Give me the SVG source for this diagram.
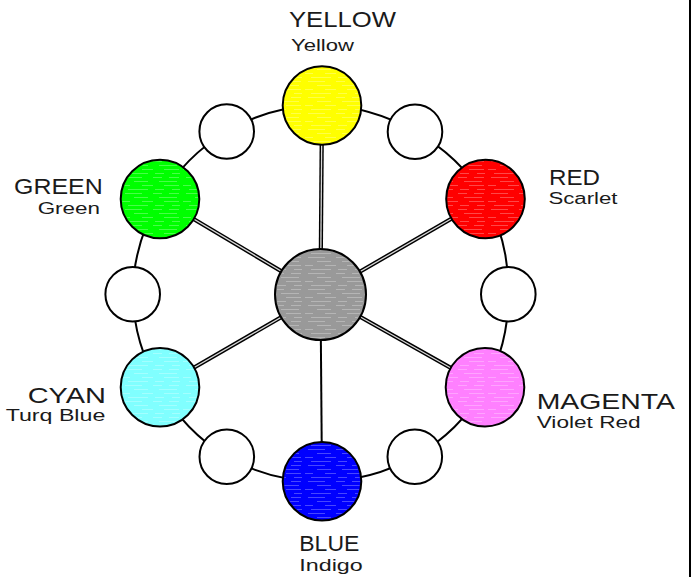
<svg xmlns="http://www.w3.org/2000/svg" width="694" height="577" viewBox="0 0 694 577">
<style>
.ring{fill:none;stroke:#000;stroke-width:2}
.sp{stroke:#000;stroke-width:4.2;stroke-linecap:butt}
.spi{stroke:#d8d8d8;stroke-width:1.3}
.sps{stroke:#000;stroke-width:2}
.nd{stroke:#000;stroke-width:2}
.tx{fill:url(#streaks);stroke:none}
.big{font-family:"Liberation Sans",Arial,sans-serif;font-size:22px;fill:#1a1a1a}
.sm{font-family:"Liberation Sans",Arial,sans-serif;font-size:16px;fill:#1a1a1a}
</style>
<defs>
<pattern id="streaks" patternUnits="userSpaceOnUse" width="61" height="16">
<path d="M3 1.5h17M31 1.5h9M47 1.5h10M12 5.5h14M37 5.5h18M0 9.5h8M20 9.5h11M42 9.5h15M6 13.5h20M33 13.5h9M50 13.5h8" stroke="#fff" stroke-opacity="0.28" stroke-width="1"/>
</pattern>
</defs>
<rect width="694" height="577" fill="#fff"/>
<line x1="690" y1="0" x2="690" y2="577" stroke="#000" stroke-width="2"/>
<g id="connectors">
<path class="ring" d="M322 105.5A188 188 0 0 1 415 131.7A188 188 0 0 1 485.5 199A188 188 0 0 1 508.3 294.2A188 188 0 0 1 485 387.2A188 188 0 0 1 414.8 456.7A188 188 0 0 1 322 481.2A188 188 0 0 1 226.8 456.7A188 188 0 0 1 160 387.2A188 188 0 0 1 132.7 294.2A188 188 0 0 1 160 199A188 188 0 0 1 226.7 131.5A188 188 0 0 1 322 105.5"/>
<line class="sp" x1="320.5" y1="294.5" x2="322" y2="105.5"/>
<line class="spi" x1="320.5" y1="294.5" x2="322" y2="105.5"/>
<line class="sp" x1="320.5" y1="294.5" x2="485.5" y2="199"/>
<line class="spi" x1="320.5" y1="294.5" x2="485.5" y2="199"/>
<line class="sp" x1="320.5" y1="294.5" x2="485" y2="387.2"/>
<line class="spi" x1="320.5" y1="294.5" x2="485" y2="387.2"/>
<line class="sp" x1="320.5" y1="294.5" x2="160" y2="387.2"/>
<line class="spi" x1="320.5" y1="294.5" x2="160" y2="387.2"/>
<line class="sp" x1="320.5" y1="294.5" x2="160" y2="199"/>
<line class="spi" x1="320.5" y1="294.5" x2="160" y2="199"/>
<line class="sps" x1="320.5" y1="294.5" x2="322" y2="481.2"/>
</g>
<g id="gray">
<circle class="nd" cx="320.5" cy="294.5" r="45.5" fill="#999"/>
<circle class="tx" cx="320.5" cy="294.5" r="44"/>
</g>
<g id="yellow">
<circle class="nd" cx="322" cy="105.5" r="39.3" fill="#ffff00"/>
<circle class="tx" cx="322" cy="105.5" r="38"/>
<text class="big" x="289" y="27" textLength="107" lengthAdjust="spacingAndGlyphs">YELLOW</text>
<text class="sm" x="291" y="51" textLength="63" lengthAdjust="spacingAndGlyphs">Yellow</text>
</g>
<g id="red">
<circle class="nd" cx="485.5" cy="199" r="39.3" fill="#ff0000"/>
<circle class="tx" cx="485.5" cy="199" r="38"/>
<text class="big" x="549" y="184.5" textLength="51" lengthAdjust="spacingAndGlyphs">RED</text>
<text class="sm" x="548.5" y="203.5" textLength="69" lengthAdjust="spacingAndGlyphs">Scarlet</text>
</g>
<g id="magenta">
<circle class="nd" cx="485" cy="387.2" r="39.3" fill="#ff80ff"/>
<circle class="tx" cx="485" cy="387.2" r="38"/>
<text class="big" x="536.7" y="409.3" textLength="138.3" lengthAdjust="spacingAndGlyphs">MAGENTA</text>
<text class="sm" x="536.7" y="428" textLength="104" lengthAdjust="spacingAndGlyphs">Violet Red</text>
</g>
<g id="blue">
<circle class="nd" cx="322" cy="481.2" r="39.3" fill="#0000ff"/>
<circle class="tx" cx="322" cy="481.2" r="38"/>
<text class="big" x="299.3" y="550.7" textLength="60" lengthAdjust="spacingAndGlyphs">BLUE</text>
<text class="sm" x="299.3" y="571" textLength="63.4" lengthAdjust="spacingAndGlyphs">Indigo</text>
</g>
<g id="cyan">
<circle class="nd" cx="160" cy="387.2" r="39.3" fill="#80ffff"/>
<circle class="tx" cx="160" cy="387.2" r="38"/>
<text class="big" x="27.7" y="403.3" textLength="78.3" lengthAdjust="spacingAndGlyphs">CYAN</text>
<text class="sm" x="5.7" y="420.5" textLength="99.6" lengthAdjust="spacingAndGlyphs">Turq Blue</text>
</g>
<g id="green">
<circle class="nd" cx="160" cy="199" r="39.3" fill="#00ff00"/>
<circle class="tx" cx="160" cy="199" r="38"/>
<text class="big" x="14" y="194.3" textLength="88.7" lengthAdjust="spacingAndGlyphs">GREEN</text>
<text class="sm" x="37.7" y="214.3" textLength="62.3" lengthAdjust="spacingAndGlyphs">Green</text>
</g>
<g id="mix-yellow-red"><circle class="nd" cx="415" cy="131.7" r="27.3" fill="#fff"/></g>
<g id="mix-red-magenta"><circle class="nd" cx="508.3" cy="294.2" r="27.3" fill="#fff"/></g>
<g id="mix-magenta-blue"><circle class="nd" cx="414.8" cy="456.7" r="27.3" fill="#fff"/></g>
<g id="mix-blue-cyan"><circle class="nd" cx="226.8" cy="456.7" r="27.3" fill="#fff"/></g>
<g id="mix-cyan-green"><circle class="nd" cx="132.7" cy="294.2" r="27.3" fill="#fff"/></g>
<g id="mix-green-yellow"><circle class="nd" cx="226.7" cy="131.5" r="27.3" fill="#fff"/></g>
</svg>
